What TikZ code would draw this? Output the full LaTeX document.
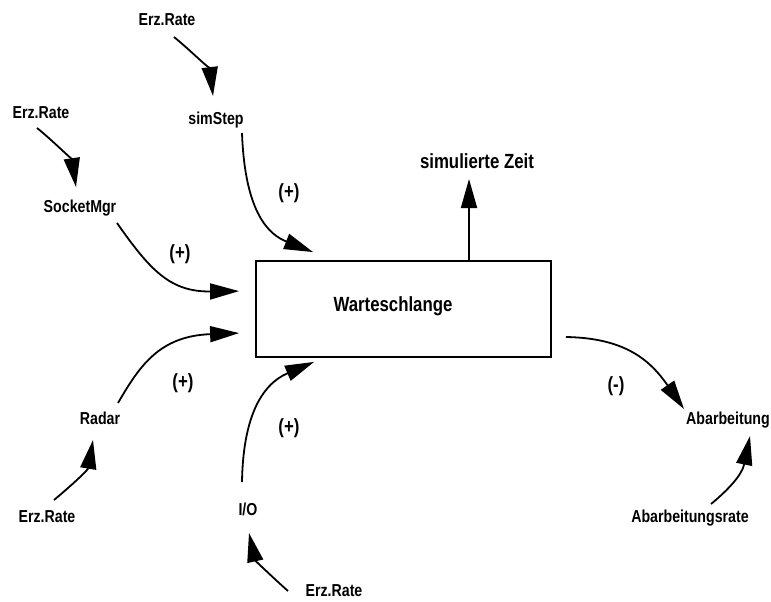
\documentclass[tikz,border=0pt]{standalone}
\usepackage{fontspec}
\setmainfont{Liberation Sans}[FakeStretch=0.82]
\usetikzlibrary{arrows.meta}

\tikzset{
  lbl/.style={font=\fontsize{17.3}{20}\selectfont\bfseries, inner sep=0pt},
  big/.style={font=\fontsize{20.5}{24}\selectfont\bfseries, inner sep=0pt},
  flow/.style={line width=1.8pt, -{Triangle[length=29pt,width=16pt]}},
  stock/.style={draw, line width=1.8pt, minimum width=295pt, minimum height=96pt, inner sep=0pt},
}

\begin{document}
\begin{tikzpicture}[x=1pt,y=-1pt]
\useasboundingbox (0,0) rectangle (771,602);

% central stock
\node[stock, label={[big, xshift=-10.5pt, yshift=3pt]center:Warteschlange}] (queue) at (403.5,309) {};

% sources and rates
\node[lbl] (erzA) at (167,20) {Erz.Rate};
\node[lbl] (simStep) at (216,120) {simStep};
\node[lbl] (erzB) at (41,113) {Erz.Rate};
\node[lbl] (socket) at (80,208) {SocketMgr};
\node[lbl] (radar) at (100,418) {Radar};
\node[lbl] (erzC) at (47,517) {Erz.Rate};
\node[lbl] (io) at (248,509) {I/O};
\node[lbl] (erzD) at (334,591) {Erz.Rate};
\node[big] (simtime) at (477,161) {simulierte Zeit};
\node[lbl] (abarb) at (728,420) {Abarbeitung};
\node[lbl] (abrate) at (690,518) {Abarbeitungsrate};

% polarity signs
\node[big] (plusSim) at (289,193) {(+)};
\node[big] (plusSock) at (180,254) {(+)};
\node[big] (plusRadar) at (183,383) {(+)};
\node[big] (plusIO) at (289,428) {(+)};
\node[big] (minus) at (616,386) {(-)};

% rate inputs
\draw[flow] ([shift={(7,17)}]erzA.center) .. controls (190,50) and (210,70) .. ([shift={(-3,-24)}]simStep.center);
\draw[flow] ([shift={(-4,15)}]erzB.center) .. controls (52,140) and (72,160) .. ([shift={(-4,-21)}]socket.center);
\draw[flow] ([shift={(7,-17)}]erzC.center) .. controls (72,485) and (88,470) .. ([shift={(-7,22)}]radar.center);
\draw[flow] ([shift={(-46,0)}]erzD.center) .. controls (270,575) and (255,560) .. ([shift={(1,24)}]io.center);
\draw[flow] ([shift={(21,-14)}]abrate.center) .. controls (728,490) and (742,475) .. ([shift={(22,16)}]abarb.center);

% inflows into the queue
\draw[flow] ([shift={(26,13)}]simStep.center) .. controls (245,215) and (270,235) .. ([shift={(58,-8)}]queue.north west);
\draw[flow] ([shift={(37,15)}]socket.center) .. controls (150,270) and (170,292) .. ([shift={(-16,31)}]queue.north west);
\draw[flow] ([shift={(18,-15)}]radar.center) .. controls (140,365) and (160,336) .. ([shift={(-16,73)}]queue.north west);
\draw[flow] ([shift={(-6,-27)}]io.center) .. controls (243,420) and (260,385) .. ([shift={(59,4)}]queue.south west);

% outflow and time
\draw[flow] ([shift={(14,28)}]queue.east) .. controls (625,338) and (650,360) .. ([shift={(-44,-11)}]abarb.center);
\draw[flow] ([shift={(65.5,0)}]queue.north) -- ([shift={(-8,18)}]simtime.center);

\end{tikzpicture}
\end{document}
